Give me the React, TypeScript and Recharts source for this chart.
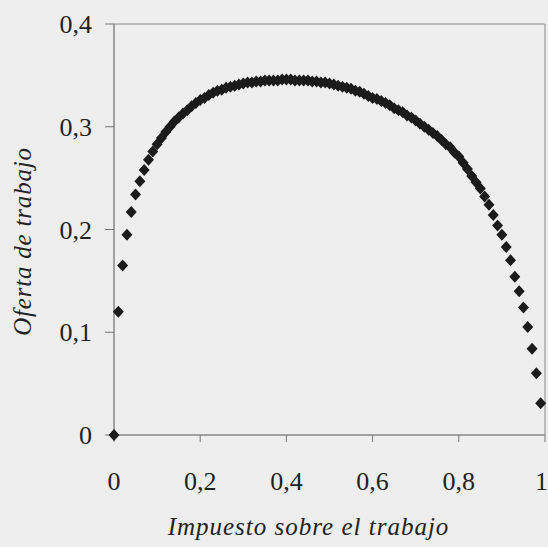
import React from "react";
import {
  ScatterChart,
  Scatter,
  XAxis,
  YAxis,
  ReferenceLine,
  Label,
} from "recharts";

// tax rate (step 0.01) and the labour supply
const taxRates = [
  0.0, 0.01, 0.02, 0.03, 0.04, 0.05, 0.06, 0.07, 0.08, 0.09,
  0.1, 0.11, 0.12, 0.13, 0.14, 0.15, 0.16, 0.17, 0.18, 0.19,
  0.2, 0.21, 0.22, 0.23, 0.24, 0.25, 0.26, 0.27, 0.28, 0.29,
  0.3, 0.31, 0.32, 0.33, 0.34, 0.35, 0.36, 0.37, 0.38, 0.39,
  0.4, 0.41, 0.42, 0.43, 0.44, 0.45, 0.46, 0.47, 0.48, 0.49,
  0.5, 0.51, 0.52, 0.53, 0.54, 0.55, 0.56, 0.57, 0.58, 0.59,
  0.6, 0.61, 0.62, 0.63, 0.64, 0.65, 0.66, 0.67, 0.68, 0.69,
  0.7, 0.71, 0.72, 0.73, 0.74, 0.75, 0.76, 0.77, 0.78, 0.79,
  0.8, 0.81, 0.82, 0.83, 0.84, 0.85, 0.86, 0.87, 0.88, 0.89,
  0.9, 0.91, 0.92, 0.93, 0.94, 0.95, 0.96, 0.97, 0.98, 0.99,
];

const laborSupply = [
  0.0, 0.12, 0.165, 0.195, 0.217, 0.234, 0.247, 0.258, 0.268, 0.276,
  0.283, 0.289, 0.295, 0.3, 0.305, 0.309, 0.313, 0.316, 0.32, 0.323,
  0.326, 0.328, 0.331, 0.333, 0.335, 0.336, 0.338, 0.339, 0.34, 0.341,
  0.342, 0.343, 0.343, 0.344, 0.344, 0.345, 0.345, 0.345, 0.345, 0.346,
  0.346, 0.346, 0.345, 0.345, 0.345, 0.345, 0.344, 0.344, 0.343, 0.343,
  0.342, 0.341, 0.34, 0.339, 0.338, 0.337, 0.335, 0.334, 0.332, 0.33,
  0.328, 0.327, 0.325, 0.323, 0.321, 0.318, 0.316, 0.314, 0.311, 0.309,
  0.306, 0.303, 0.3, 0.297, 0.294, 0.291, 0.287, 0.283, 0.28, 0.275,
  0.271, 0.265, 0.259, 0.252, 0.246, 0.24, 0.232, 0.224, 0.214, 0.204,
  0.195, 0.183, 0.17, 0.154, 0.14, 0.124, 0.105, 0.084, 0.06, 0.031,
];

const xTicks = [0, 0.2, 0.4, 0.6, 0.8, 1];
const yTicks = [0, 0.1, 0.2, 0.3, 0.4];

const data = taxRates.map((t, i) => ({ t, l: laborSupply[i] }));

const FONT = "'Liberation Serif', 'Times New Roman', serif";
const fmt = (v: number) => String(v).replace(".", ",");

const Diamond = (props: any) => {
  const { cx, cy } = props;
  if (cx == null || cy == null) return null;
  const w = 5.5;
  const h = 6;
  return (
    <polygon
      points={`${cx},${cy - h} ${cx + w},${cy} ${cx},${cy + h} ${cx - w},${cy}`}
      fill="#1b1b1b"
    />
  );
};

const XLabel = (props: any) => {
  const vb = props.viewBox;
  return (
    <text
      x={vb.x + vb.width / 2 - 21}
      y={vb.y + vb.height - 12}
      textAnchor="middle"
      fontFamily={FONT}
      fontStyle="italic"
      fontSize={25}
      letterSpacing={1}
      fill="#222"
    >
      Impuesto sobre el trabajo
    </text>
  );
};

const YLabel = (props: any) => {
  const vb = props.viewBox;
  const x = 22;
  const y = vb.y + vb.height / 2 + 12;
  return (
    <text
      x={x}
      y={y}
      transform={`rotate(-90, ${x}, ${y})`}
      textAnchor="middle"
      dominantBaseline="central"
      fontFamily={FONT}
      fontStyle="italic"
      fontSize={25}
      letterSpacing={0.8}
      fill="#222"
    >
      Oferta de trabajo
    </text>
  );
};

export default function App() {
  return (
    <div
      style={{
        position: "absolute",
        left: 0,
        top: 0,
        width: 548,
        height: 547,
        background: "#eeeeee",
      }}
    >
      <ScatterChart
        width={548}
        height={547}
        margin={{ top: 24, right: 3, bottom: 0, left: 0 }}
      >
        <XAxis
          type="number"
          dataKey="t"
          domain={[0, 1]}
          ticks={xTicks}
          tickFormatter={fmt}
          height={112}
          tickSize={7}
          tickMargin={30}
          stroke="#555"
          tick={{ fill: "#222", fontSize: 26, fontFamily: FONT }}
          tickLine={{ stroke: "#777" }}
        >
          <Label content={<XLabel />} />
        </XAxis>
        <YAxis
          type="number"
          dataKey="l"
          domain={[0, 0.4]}
          ticks={yTicks}
          tickFormatter={fmt}
          width={114}
          tickSize={9}
          tickMargin={13}
          stroke="#555"
          tick={{ fill: "#222", fontSize: 26, fontFamily: FONT }}
          tickLine={{ stroke: "#777" }}
        >
          <Label content={<YLabel />} />
        </YAxis>
        <ReferenceLine y={0.4} stroke="#8a8a8a" />
        <ReferenceLine x={1} stroke="#8a8a8a" />
        <Scatter data={data} shape={<Diamond />} isAnimationActive={false} />
      </ScatterChart>
    </div>
  );
}
